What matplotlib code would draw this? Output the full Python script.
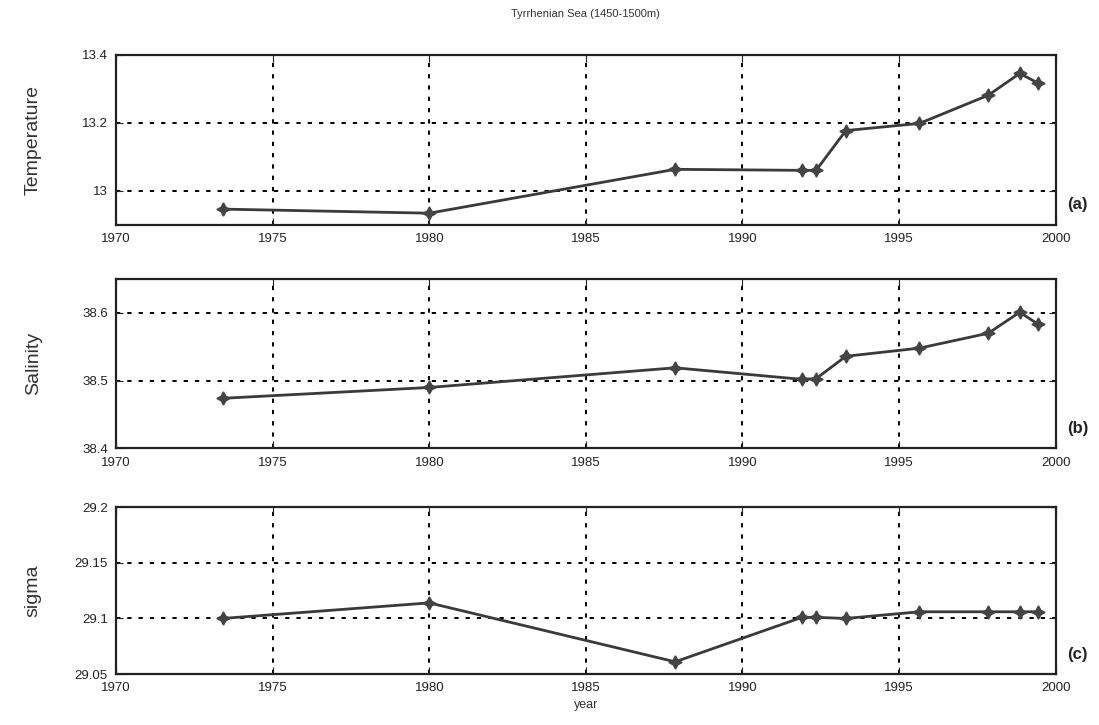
import matplotlib
matplotlib.use("Agg")
import matplotlib.pyplot as plt

plt.rcParams['font.family'] = ['Liberation Sans', 'DejaVu Sans']

years = [1973.4, 1980.0, 1987.85, 1991.9, 1992.35, 1993.3, 1995.65, 1997.85, 1998.85, 1999.45]
temperature = [12.946, 12.934, 13.063, 13.060, 13.060, 13.177, 13.198, 13.281, 13.345, 13.316]
salinity = [38.474, 38.490, 38.519, 38.502, 38.503, 38.536, 38.548, 38.570, 38.601, 38.583]
sigma = [29.100, 29.114, 29.061, 29.101, 29.101, 29.100, 29.106, 29.106, 29.106, 29.106]

panels = [
    dict(y=temperature, label='Temperature', tag='(a)', ylim=(12.9, 13.4),
         ticks=[13.0, 13.2, 13.4], ticklabels=['13', '13.2', '13.4'],
         rect=[0.1056, 0.690, 0.855, 0.2345]),
    dict(y=salinity, label='Salinity', tag='(b)', ylim=(38.4, 38.65),
         ticks=[38.4, 38.5, 38.6], ticklabels=['38.4', '38.5', '38.6'],
         rect=[0.1056, 0.3814, 0.855, 0.2338]),
    dict(y=sigma, label='sigma', tag='(c)', ylim=(29.05, 29.2),
         ticks=[29.05, 29.1, 29.15, 29.2], ticklabels=['29.05', '29.1', '29.15', '29.2'],
         rect=[0.1056, 0.0703, 0.855, 0.2300]),
]

xticks = [1970, 1975, 1980, 1985, 1990, 1995, 2000]

fig = plt.figure(figsize=(10.99, 7.25), dpi=100)

for i, p in enumerate(panels):
    ax = fig.add_axes(p['rect'])
    ax.plot(years, p['y'], color='#3a3a3a', linewidth=2.0, marker=(4, 1, 0),
            markersize=9.5, markerfacecolor='#444444', markeredgecolor='#444444',
            zorder=3)
    ax.set_xlim(1970, 2000)
    ax.set_ylim(*p['ylim'])
    ax.set_xticks(xticks)
    ax.set_xticklabels([str(x) for x in xticks])
    ax.set_yticks(p['ticks'])
    ax.set_yticklabels(p['ticklabels'])
    ax.grid(True, color='black', linestyle=(0, (2.2, 3.6)), linewidth=1.4)
    ax.tick_params(direction='in', length=5, labelsize=9.5, colors='#222222',
                   top=True, right=True, pad=6)
    for s in ax.spines.values():
        s.set_linewidth(1.6)
        s.set_color('#222222')
    ax.set_ylabel(p['label'], fontsize=14, color='#333333')
    ax.yaxis.set_label_coords(-0.079, 0.5)
    ax.text(1.012, 0.12, p['tag'], transform=ax.transAxes, fontsize=12,
            fontweight='bold', color='#222222', ha='left', va='center')
    if i == 2:
        ax.set_xlabel('year', fontsize=9, color='#333333', labelpad=3)

fig.text(0.533, 1 - 14 / 725, 'Tyrrhenian Sea (1450-1500m)', fontsize=8,
         color='#333333', ha='center', va='center')

fig.savefig('out.png', dpi=100)
